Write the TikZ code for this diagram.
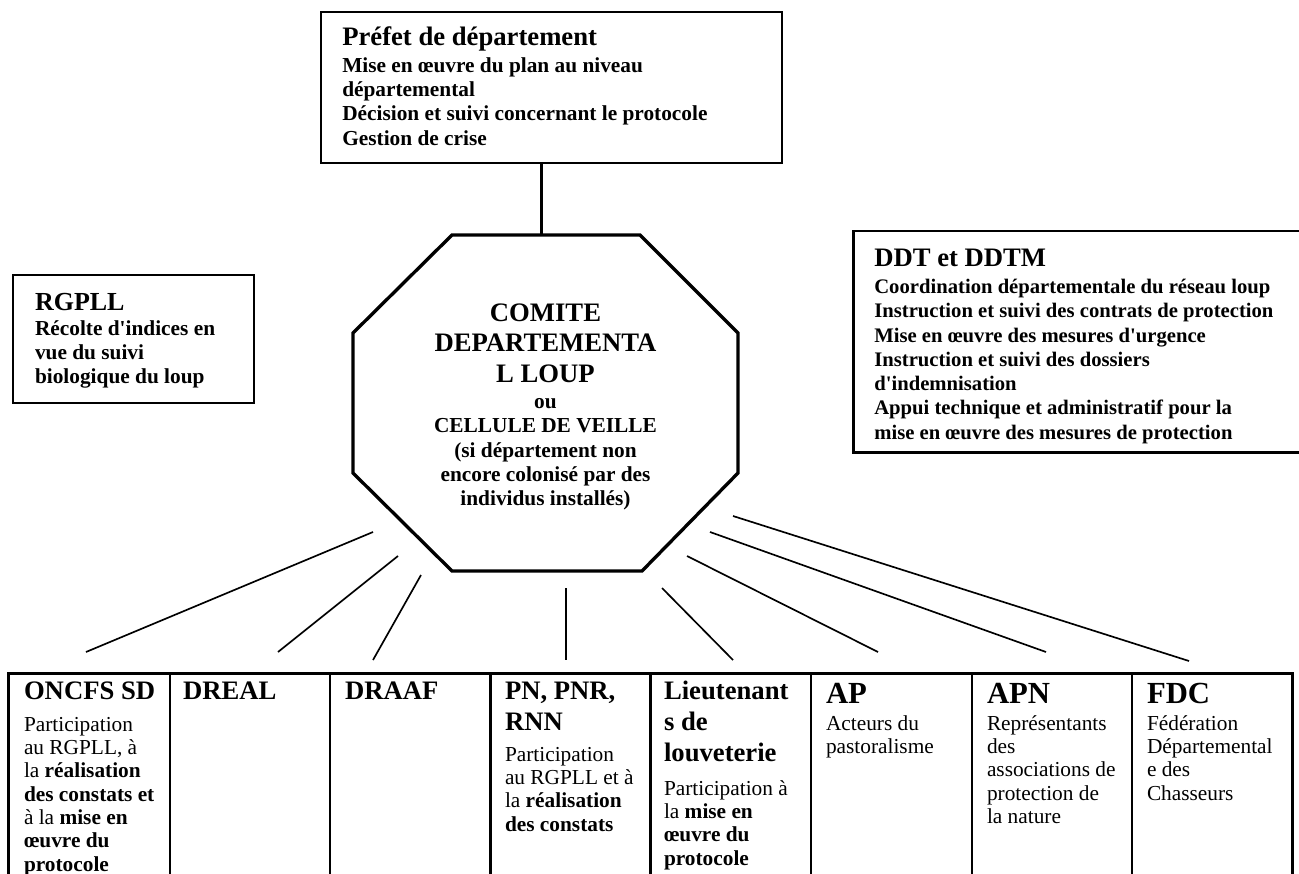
\documentclass[tikz,border=0pt]{standalone}
\usepackage{fontspec}
\setmainfont{Liberation Serif}
\newcommand\LinesL[1]{\vtop{\halign{##\hfil\cr#1\crcr}}}
\newcommand\LinesC[1]{\vtop{\halign{\hfil##\hfil\cr#1\crcr}}}
\begin{document}
\begin{tikzpicture}[x=0.75pt,y=-0.75pt,
  thinbox/.style={draw=black, line width=1.3pt},
  midbox/.style={draw=black, line width=1.8pt},
  rowline/.style={draw=black, line width=2pt},
  octo/.style={draw=black, line width=2.5pt, line join=miter},
  stem/.style={draw=black, line width=2.4pt},
  spoke/.style={draw=black, line width=1.25pt},
  txt/.style={inner sep=0pt, outer sep=0pt, anchor=base west},
  ctr/.style={inner sep=0pt, outer sep=0pt, anchor=base},
  ttl/.style={txt, font=\fontsize{20}{23.6}\selectfont\bfseries},
  bigttl/.style={txt, font=\fontsize{23}{27}\selectfont\bfseries},
  bodyb/.style={txt, font=\fontsize{16}{18.1}\selectfont\bfseries},
  bodyr/.style={txt, font=\fontsize{16}{17.5}\selectfont}]
\useasboundingbox (0,0) rectangle (1299,874);
\clip (0,0) rectangle (1299,874);

% ---- Prefet box
\draw[thinbox] (321,11.7) rectangle (782.3,163.3);
\node[ttl] (prefetT) at (342.3,45.7) {Préfet de département};
\node[bodyb] (prefetB) at (342.3,72.7) {\LinesL{Mise en œuvre du plan au niveau\cr départemental\cr Décision et suivi concernant le protocole\cr Gestion de crise}};

% ---- RGPLL box
\draw[thinbox] (13.3,275) rectangle (254,403.3);
\node[txt, font=\fontsize{19.5}{23}\selectfont\bfseries] (rgT) at (35,310.7) {RGPLL};
\node[txt, font=\fontsize{16}{18.2}\selectfont\bfseries] (rgB) at (35,335) {\LinesL{Récolte d\textquotesingle indices en\cr vue du suivi\cr biologique du loup}};

% ---- DDT box
\draw[midbox] (853.3,231) rectangle (1310,452.3);
\node[ttl] (ddtT) at (874.3,266.5) {DDT et DDTM};
\node[txt, font=\fontsize{15.5}{18.2}\selectfont\bfseries] (ddtB) at (874.3,293.5) {\LinesL{Coordination départementale du réseau loup\cr Instruction et suivi des contrats de protection\cr Mise en œuvre des mesures d\textquotesingle urgence\cr Instruction et suivi des dossiers\cr d\textquotesingle indemnisation\cr Appui technique et administratif pour la\cr mise en œuvre des mesures de protection}};

% ---- Octagon
\draw[octo] (452,235) -- (640,235) -- (738,333) -- (738,473) -- (642,571) -- (452,571) -- (353,473) -- (353,333) -- cycle;
\node[ctr, font=\fontsize{20}{22.7}\selectfont\bfseries] (comT) at (545.5,321.7) {\LinesC{COMITE\cr DEPARTEMENTA\cr L LOUP}};
\node[ctr, font=\fontsize{16}{18.3}\selectfont\bfseries] (comB) at (545.5,408.3) {\LinesC{ou\cr CELLULE DE VEILLE\cr (si département non\cr encore colonisé par des\cr individus installés)}};

% ---- stem Prefet -> comite
\coordinate (stemA) at (541.7,163.3);
\coordinate (stemB) at (541.7,235);
\draw[stem] (stemA) -- (stemB);

% ---- spokes
\coordinate (s1a) at (373,532);  \coordinate (s1b) at (86,652);
\coordinate (s2a) at (398,556);  \coordinate (s2b) at (278,652);
\coordinate (s3a) at (421,575);  \coordinate (s3b) at (373,660);
\coordinate (s4a) at (566,588);  \coordinate (s4b) at (566,660);
\coordinate (s5a) at (662,588);  \coordinate (s5b) at (733,660);
\coordinate (s6a) at (687,556);  \coordinate (s6b) at (878,652);
\coordinate (s7a) at (710,532);  \coordinate (s7b) at (1046,652);
\coordinate (s8a) at (733,516);  \coordinate (s8b) at (1189,661);
\foreach \i in {1,...,8} { \draw[spoke] (s\i a) -- (s\i b); }

% ---- bottom row
\draw[rowline, line join=miter] (8.3,890) -- (8.3,673.3) -- (1292.3,673.3) -- (1292.3,890);
\foreach \xx in {170,330,490.5,650.5,811,972,1132} { \draw[rowline] (\xx,673.3) -- (\xx,890); }

\node[ttl] (oncT) at (24,699) {ONCFS SD};
\node[bodyr] (oncB) at (24,731) {\LinesL{Participation\cr au RGPLL, à\cr la \textbf{réalisation}\cr \textbf{des constats et}\cr à la \textbf{mise en}\cr \textbf{œuvre du}\cr \textbf{protocole}}};

\node[ttl] (drealT) at (183,699) {DREAL};
\node[ttl] (draafT) at (345,699) {DRAAF};

\node[ttl] (pnT) at (505,699) {\LinesL{PN, PNR,\cr RNN}};
\node[bodyr] (pnB) at (505,761) {\LinesL{Participation\cr au RGPLL et à\cr la \textbf{réalisation}\cr \textbf{des constats}}};

\node[ttl] (ltT) at (664,699) {\LinesL{Lieutenant\cr s de\cr louveterie}};
\node[bodyr] (ltB) at (664,795) {\LinesL{Participation à\cr la \textbf{mise en}\cr \textbf{œuvre du}\cr \textbf{protocole}}};

\node[bigttl] (apT) at (826,703) {AP};
\node[bodyr] (apB) at (826,730) {\LinesL{Acteurs du\cr pastoralisme}};

\node[bigttl] (apnT) at (987,703) {APN};
\node[bodyr] (apnB) at (987,730) {\LinesL{Représentants\cr des\cr associations de\cr protection de\cr la nature}};

\node[bigttl] (fdcT) at (1147,703) {FDC};
\node[bodyr] (fdcB) at (1147,730) {\LinesL{Fédération\cr Départemental\cr e des\cr Chasseurs}};
\end{tikzpicture}
\end{document}
